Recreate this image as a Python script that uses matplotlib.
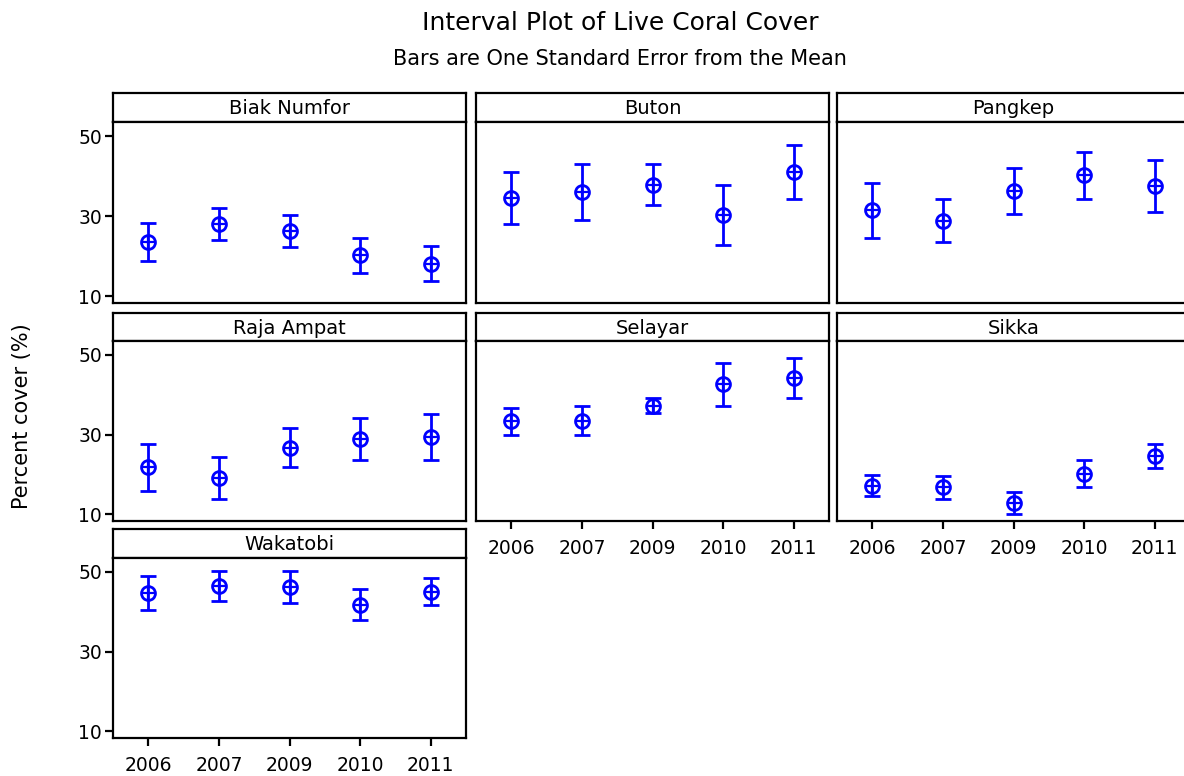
import numpy as np
import matplotlib
matplotlib.use("Agg")
import matplotlib.pyplot as plt

# ---------------------------
# Data
# ---------------------------
years = ["2006", "2007", "2009", "2010", "2011"]
sites = ["Biak Numfor", "Buton", "Pangkep", "Raja Ampat", "Selayar", "Sikka", "Wakatobi"]

biak_mean = [23.5, 28.0, 26.3, 20.2, 18.1]
biak_se = [4.75, 4.0, 3.9, 4.4, 4.4]
buton_mean = [34.6, 36.1, 37.8, 30.3, 41.0]
buton_se = [6.5, 7.0, 5.1, 7.5, 6.75]
pangkep_mean = [31.4, 28.9, 36.3, 40.2, 37.5]
pangkep_se = [6.9, 5.4, 5.75, 5.9, 6.4]
raja_mean = [21.8, 19.1, 26.7, 28.9, 29.4]
raja_se = [5.95, 5.3, 4.9, 5.3, 5.8]
selayar_mean = [33.3, 33.5, 37.3, 42.6, 44.2]
selayar_se = [3.3, 3.65, 2.0, 5.4, 5.0]
sikka_mean = [17.2, 16.8, 12.9, 20.2, 24.6]
sikka_se = [2.6, 2.9, 2.8, 3.4, 3.0]
wakatobi_mean = [44.7, 46.5, 46.3, 41.8, 45.0]
wakatobi_se = [4.3, 3.7, 4.0, 3.9, 3.4]

means = [biak_mean, buton_mean, pangkep_mean, raja_mean, selayar_mean, sikka_mean, wakatobi_mean]
ses = [biak_se, buton_se, pangkep_se, raja_se, selayar_se, sikka_se, wakatobi_se]

W, H = 1184, 776
fig = plt.figure(figsize=(W / 100, H / 100), dpi=100)
plt.rcParams['font.family'] = ['DejaVu Sans']

BLUE = "#0000FF"
LW = 1.6

# panel boxes in pixels: (left, right), (strip_top, strip_bottom, plot_bottom)
cols = [(113, 466), (476, 829), (837, 1190)]
rows = [(93, 122, 303), (313, 341, 521), (529, 558, 738)]


def px_axes(x0, x1, y0, y1):
    return fig.add_axes([x0 / W, 1 - y1 / H, (x1 - x0) / W, (y1 - y0) / H])


x = np.arange(len(years))
for i, site in enumerate(sites):
    r, c = divmod(i, 3)
    (x0, x1), (st, sb, pb) = cols[c], rows[r]

    # strip with the site name
    sax = px_axes(x0, x1, st, sb)
    sax.set_xticks([])
    sax.set_yticks([])
    for sp in sax.spines.values():
        sp.set_linewidth(LW)
    sax.text(0.5, 0.45, site, ha="center", va="center", fontsize=14,
             transform=sax.transAxes)

    ax = px_axes(x0, x1, sb, pb)
    for sp in ax.spines.values():
        sp.set_linewidth(LW)
    ax.errorbar(x, means[i], yerr=ses[i], fmt="none", ecolor=BLUE,
                elinewidth=2, capsize=5.5, capthick=2)
    ax.plot(x, means[i], "o", ms=10, mfc="none", mec=BLUE, mew=2)
    ax.plot(x, means[i], "+", ms=10, mec=BLUE, mew=1.6)
    ax.set_xlim(-0.5, 4.5)
    ax.set_ylim(8.3, 53.5)

    ax.tick_params(direction="out", length=6, width=LW, labelsize=13.5)
    ax.tick_params(axis="x", pad=7)
    ax.tick_params(axis="y", pad=2)
    if c == 0:
        ax.set_yticks([10, 30, 50])
    else:
        ax.set_yticks([])
    # bottom panels carry the year labels
    if i >= 4:
        ax.set_xticks(x)
        ax.set_xticklabels(years)
    else:
        ax.set_xticks([])

fig.text(620 / W, 1 - 23 / H, "Interval Plot of Live Coral Cover", ha="center",
         va="center", fontsize=18)
fig.text(620 / W, 1 - 59 / H, "Bars are One Standard Error from the Mean",
         ha="center", va="center", fontsize=15)
fig.text(22 / W, 1 - 416 / H, "Percent cover (%)", rotation=90, ha="center",
         va="center", fontsize=15)

fig.savefig("out.png", dpi=100)
